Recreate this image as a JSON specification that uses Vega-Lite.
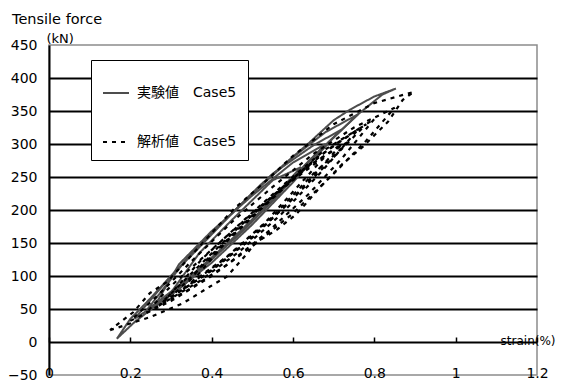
{
"$schema": "https://vega.github.io/schema/vega-lite/v6.json",
"width": 488, "height": 330,
"autosize": {"type": "none"},
"padding": {"left": 49, "top": 45, "right": 26, "bottom": 10},
"background": "white",
"config": {"view": {"stroke": "#8c8c8c", "strokeWidth": 1.5}, "font": "DejaVu Sans, Noto Sans CJK JP"},
"title": {"text": "Tensile force", "anchor": "start", "frame": "group", "orient": "top", "fontSize": 14.5, "fontWeight": "normal", "color": "black", "dx": -37, "offset": 5},
"datasets": {
"g": [
{"l":"g1","i":0,"x":0.167,"y":5},{"l":"g1","i":1,"x":0.21,"y":30},{"l":"g1","i":2,"x":0.256,"y":52},{"l":"g1","i":3,"x":0.32,"y":80},{"l":"g1","i":4,"x":0.40,"y":125},{"l":"g1","i":5,"x":0.48,"y":170},{"l":"g1","i":6,"x":0.56,"y":220},{"l":"g1","i":7,"x":0.64,"y":275},{"l":"g1","i":8,"x":0.70,"y":310},{"l":"g1","i":9,"x":0.76,"y":345},{"l":"g1","i":10,"x":0.82,"y":375},{"l":"g1","i":11,"x":0.853,"y":384},{"l":"g1","i":12,"x":0.80,"y":372},{"l":"g1","i":13,"x":0.74,"y":352},{"l":"g1","i":14,"x":0.70,"y":336},{"l":"g1","i":15,"x":0.64,"y":302},{"l":"g1","i":16,"x":0.58,"y":270},{"l":"g1","i":17,"x":0.52,"y":238},{"l":"g1","i":18,"x":0.45,"y":195},{"l":"g1","i":19,"x":0.38,"y":150},{"l":"g1","i":20,"x":0.30,"y":100},{"l":"g1","i":21,"x":0.24,"y":60},{"l":"g1","i":22,"x":0.20,"y":35},{"l":"g1","i":23,"x":0.167,"y":5},
{"l":"g2","i":0,"x":0.21,"y":35},{"l":"g2","i":1,"x":0.3,"y":72},{"l":"g2","i":2,"x":0.4,"y":120},{"l":"g2","i":3,"x":0.5,"y":178},{"l":"g2","i":4,"x":0.6,"y":242},{"l":"g2","i":5,"x":0.7,"y":310},{"l":"g2","i":6,"x":0.76,"y":345},{"l":"g2","i":7,"x":0.68,"y":318},{"l":"g2","i":8,"x":0.6,"y":280},{"l":"g2","i":9,"x":0.5,"y":225},{"l":"g2","i":10,"x":0.4,"y":165},{"l":"g2","i":11,"x":0.3,"y":100},{"l":"g2","i":12,"x":0.21,"y":35},
{"l":"g3","i":0,"x":0.24,"y":48},{"l":"g3","i":1,"x":0.34,"y":95},{"l":"g3","i":2,"x":0.44,"y":150},{"l":"g3","i":3,"x":0.54,"y":210},{"l":"g3","i":4,"x":0.64,"y":275},{"l":"g3","i":5,"x":0.72,"y":322},{"l":"g3","i":6,"x":0.65,"y":298},{"l":"g3","i":7,"x":0.55,"y":255},{"l":"g3","i":8,"x":0.45,"y":195},{"l":"g3","i":9,"x":0.35,"y":135},{"l":"g3","i":10,"x":0.24,"y":48},
{"l":"g4","i":0,"x":0.26,"y":55},{"l":"g4","i":1,"x":0.36,"y":105},{"l":"g4","i":2,"x":0.46,"y":160},{"l":"g4","i":3,"x":0.56,"y":222},{"l":"g4","i":4,"x":0.68,"y":300},{"l":"g4","i":5,"x":0.60,"y":272},{"l":"g4","i":6,"x":0.50,"y":222},{"l":"g4","i":7,"x":0.40,"y":168},{"l":"g4","i":8,"x":0.32,"y":118},{"l":"g4","i":9,"x":0.26,"y":55},
{"l":"g5","i":0,"x":0.3,"y":75},{"l":"g5","i":1,"x":0.4,"y":125},{"l":"g5","i":2,"x":0.5,"y":185},{"l":"g5","i":3,"x":0.62,"y":265},{"l":"g5","i":4,"x":0.55,"y":245},{"l":"g5","i":5,"x":0.45,"y":185},{"l":"g5","i":6,"x":0.37,"y":135},{"l":"g5","i":7,"x":0.3,"y":75}
],
"b": [
{"l":"b1","i":0,"x":0.15,"y":18},{"l":"b1","i":1,"x":0.25,"y":38},{"l":"b1","i":2,"x":0.33,"y":59},{"l":"b1","i":3,"x":0.396,"y":84},{"l":"b1","i":4,"x":0.437,"y":99},{"l":"b1","i":5,"x":0.487,"y":134},{"l":"b1","i":6,"x":0.507,"y":150},{"l":"b1","i":7,"x":0.56,"y":170},{"l":"b1","i":8,"x":0.605,"y":192},{"l":"b1","i":9,"x":0.625,"y":205},{"l":"b1","i":10,"x":0.666,"y":234},{"l":"b1","i":11,"x":0.72,"y":269},{"l":"b1","i":12,"x":0.772,"y":296},{"l":"b1","i":13,"x":0.834,"y":334},{"l":"b1","i":14,"x":0.87,"y":367},{"l":"b1","i":15,"x":0.897,"y":379},{"l":"b1","i":16,"x":0.8,"y":362},{"l":"b1","i":17,"x":0.7,"y":330},{"l":"b1","i":18,"x":0.6,"y":282},{"l":"b1","i":19,"x":0.523,"y":238},{"l":"b1","i":20,"x":0.457,"y":203},{"l":"b1","i":21,"x":0.413,"y":174},{"l":"b1","i":22,"x":0.347,"y":129},{"l":"b1","i":23,"x":0.29,"y":91},{"l":"b1","i":24,"x":0.248,"y":74},{"l":"b1","i":25,"x":0.207,"y":45},{"l":"b1","i":26,"x":0.15,"y":18},
{"l":"b2","i":0,"x":0.2,"y":32},{"l":"b2","i":1,"x":0.3,"y":62},{"l":"b2","i":2,"x":0.4,"y":100},{"l":"b2","i":3,"x":0.5,"y":145},{"l":"b2","i":4,"x":0.6,"y":195},{"l":"b2","i":5,"x":0.7,"y":255},{"l":"b2","i":6,"x":0.78,"y":305},{"l":"b2","i":7,"x":0.85,"y":355},{"l":"b2","i":8,"x":0.75,"y":325},{"l":"b2","i":9,"x":0.65,"y":285},{"l":"b2","i":10,"x":0.55,"y":235},{"l":"b2","i":11,"x":0.45,"y":182},{"l":"b2","i":12,"x":0.35,"y":122},{"l":"b2","i":13,"x":0.27,"y":72},{"l":"b2","i":14,"x":0.2,"y":32},
{"l":"b3","i":0,"x":0.24,"y":45},{"l":"b3","i":1,"x":0.34,"y":78},{"l":"b3","i":2,"x":0.44,"y":118},{"l":"b3","i":3,"x":0.54,"y":168},{"l":"b3","i":4,"x":0.64,"y":225},{"l":"b3","i":5,"x":0.72,"y":278},{"l":"b3","i":6,"x":0.80,"y":338},{"l":"b3","i":7,"x":0.70,"y":298},{"l":"b3","i":8,"x":0.60,"y":248},{"l":"b3","i":9,"x":0.50,"y":195},{"l":"b3","i":10,"x":0.40,"y":140},{"l":"b3","i":11,"x":0.30,"y":85},{"l":"b3","i":12,"x":0.24,"y":45},
{"l":"b4","i":0,"x":0.27,"y":55},{"l":"b4","i":1,"x":0.37,"y":92},{"l":"b4","i":2,"x":0.47,"y":138},{"l":"b4","i":3,"x":0.57,"y":193},{"l":"b4","i":4,"x":0.67,"y":258},{"l":"b4","i":5,"x":0.76,"y":322},{"l":"b4","i":6,"x":0.66,"y":280},{"l":"b4","i":7,"x":0.56,"y":226},{"l":"b4","i":8,"x":0.46,"y":170},{"l":"b4","i":9,"x":0.36,"y":110},{"l":"b4","i":10,"x":0.27,"y":55},
{"l":"b5","i":0,"x":0.3,"y":68},{"l":"b5","i":1,"x":0.4,"y":108},{"l":"b5","i":2,"x":0.5,"y":158},{"l":"b5","i":3,"x":0.6,"y":218},{"l":"b5","i":4,"x":0.72,"y":300},{"l":"b5","i":5,"x":0.62,"y":258},{"l":"b5","i":6,"x":0.52,"y":202},{"l":"b5","i":7,"x":0.42,"y":142},{"l":"b5","i":8,"x":0.3,"y":68},
{"l":"b6","i":0,"x":0.33,"y":80},{"l":"b6","i":1,"x":0.43,"y":125},{"l":"b6","i":2,"x":0.53,"y":180},{"l":"b6","i":3,"x":0.68,"y":282},{"l":"b6","i":4,"x":0.58,"y":236},{"l":"b6","i":5,"x":0.48,"y":180},{"l":"b6","i":6,"x":0.38,"y":120},{"l":"b6","i":7,"x":0.33,"y":80},
{"l":"b7","i":0,"x":0.28,"y":60},{"l":"b7","i":1,"x":0.38,"y":100},{"l":"b7","i":2,"x":0.48,"y":148},{"l":"b7","i":3,"x":0.58,"y":205},{"l":"b7","i":4,"x":0.7,"y":280},{"l":"b7","i":5,"x":0.78,"y":330},{"l":"b7","i":6,"x":0.68,"y":292},{"l":"b7","i":7,"x":0.58,"y":240},{"l":"b7","i":8,"x":0.48,"y":185},{"l":"b7","i":9,"x":0.38,"y":128},{"l":"b7","i":10,"x":0.28,"y":60},
{"l":"b8","i":0,"x":0.35,"y":90},{"l":"b8","i":1,"x":0.45,"y":135},{"l":"b8","i":2,"x":0.55,"y":190},{"l":"b8","i":3,"x":0.65,"y":255},{"l":"b8","i":4,"x":0.74,"y":305},{"l":"b8","i":5,"x":0.64,"y":268},{"l":"b8","i":6,"x":0.54,"y":212},{"l":"b8","i":7,"x":0.44,"y":155},{"l":"b8","i":8,"x":0.35,"y":90}
]
},
"encoding": {
"x": {"field": "x", "type": "quantitative", "scale": {"domain": [0, 1.2], "nice": false, "zero": false},
 "axis": {"values": [0, 0.2, 0.4, 0.6, 0.8, 1, 1.2], "format": "~g", "offset": -33, "domain": false, "grid": false, "tickSize": -5, "tickColor": "black", "tickWidth": 1.5, "labelFontSize": 14, "labelColor": "black", "labelPadding": 29, "labelFlush": false,
  "title": "strain(%)", "titleX": 506, "titleY": -2, "titleAlign": "right", "titleBaseline": "middle", "titleFontSize": 12, "titleFontWeight": "normal", "titleColor": "black"}},
"y": {"field": "y", "type": "quantitative", "scale": {"domain": [-50, 450], "nice": false, "zero": false},
 "axis": {"values": [-50, 0, 50, 100, 150, 200, 250, 300, 350, 400, 450], "grid": true, "gridColor": {"condition": {"test": "datum.value < 0 || datum.value > 400", "value": "transparent"}, "value": "black"}, "gridWidth": 1.8, "ticks": false, "domainColor": "black", "domainWidth": 2, "labelFontSize": 14, "labelColor": "black", "labelPadding": 12,
  "title": "(kN)", "titleAngle": 0, "titleX": -3, "titleY": -7, "titleAlign": "left", "titleBaseline": "middle", "titleFontSize": 13, "titleFontWeight": "normal", "titleColor": "black"}},
"color": {"field": "series", "type": "nominal", "scale": {"domain": ["実験値　Case5", "解析値　Case5"], "range": ["#4d4d4d", "#000000"]},
 "legend": {"title": " ", "orient": "none", "legendX": 42, "legendY": 15, "padding": 11, "rowPadding": 28, "strokeColor": "black", "fillColor": "white", "symbolType": "stroke", "symbolSize": 676, "symbolStrokeWidth": 2, "labelFontSize": 14, "labelColor": "black", "labelOffset": 7, "titleFontSize": 8, "titlePadding": 0, "labelLimit": 300}},
"strokeDash": {"field": "series", "type": "nominal", "scale": {"domain": ["実験値　Case5", "解析値　Case5"], "range": [[1, 0], [4, 5]]},
 "legend": {"title": " ", "orient": "none", "legendX": 42, "legendY": 15, "padding": 11, "rowPadding": 28, "strokeColor": "black", "fillColor": "white", "symbolType": "stroke", "symbolSize": 676, "symbolStrokeWidth": 2, "labelFontSize": 14, "labelColor": "black", "labelOffset": 7, "titleFontSize": 8, "titlePadding": 0, "labelLimit": 300}},
"detail": {"field": "l"},
"order": {"field": "i", "type": "quantitative"}
},
"layer": [
{"data": {"name": "g"}, "transform": [{"calculate": "'実験値　Case5'", "as": "series"}], "mark": {"type": "line", "strokeWidth": 2}},
{"data": {"name": "b"}, "transform": [{"calculate": "'解析値　Case5'", "as": "series"}], "mark": {"type": "line", "strokeWidth": 2.2}}
]
}
